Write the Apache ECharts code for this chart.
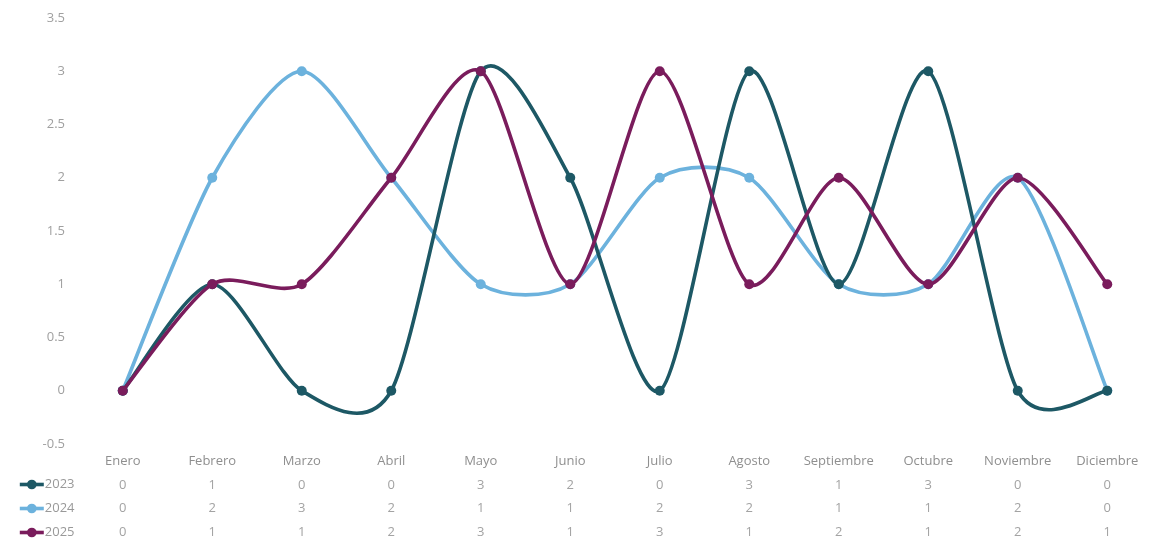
<!DOCTYPE html>
<html><head><meta charset="utf-8">
<script src="https://cdn.jsdelivr.net/npm/echarts@6/dist/echarts.min.js"></script>
<style>html,body{margin:0;padding:0;background:#fff}#c{width:1149px;height:540px}</style>
</head><body><div id="c"></div>
<script>
const categories = ['Enero','Febrero','Marzo','Abril','Mayo','Junio','Julio','Agosto','Septiembre','Octubre','Noviembre','Diciembre'];
const seriesNames = ['2023','2024','2025'];
const s2023 = [0,1,0,0,3,2,0,3,1,3,0,0];
const s2024 = [0,2,3,2,1,1,2,2,1,1,2,0];
const s2025 = [0,1,1,2,3,1,3,1,2,1,2,1];
const yTicks = [-0.5,0,0.5,1,1.5,2,2.5,3,3.5];
const colors = ['#1d5865','#6cb2dd','#7a1c5c'];
const allSeries = [s2023, s2024, s2025];

const chart = echarts.init(document.getElementById('c'));
const font = '"Open Sans", "Noto Sans", sans-serif';
const LW = 3.6;
const TENSION = 1 / 7.5;

function curveRenderer(s, color) {
  const n = s.length;
  return function (params, api) {
    const i = params.dataIndex;
    if (i >= n - 1) return null;
    const cl = j => Math.max(0, Math.min(n - 1, j));
    const p = j => api.coord([cl(j), s[cl(j)]]);
    const p0 = p(i - 1), p1 = p(i), p2 = p(i + 1), p3 = p(i + 2);
    const c1 = [p1[0] + (p2[0] - p0[0]) * TENSION, p1[1] + (p2[1] - p0[1]) * TENSION];
    const c2 = [p2[0] - (p3[0] - p1[0]) * TENSION, p2[1] - (p3[1] - p1[1]) * TENSION];
    return {
      type: 'bezierCurve',
      shape: {x1: p1[0], y1: p1[1], x2: p2[0], y2: p2[1], cpx1: c1[0], cpy1: c1[1], cpx2: c2[0], cpy2: c2[1]},
      style: {stroke: color, lineWidth: LW, fill: null, lineCap: 'round'}
    };
  };
}

const zc = [3, 2, 4];
const series = [];
allSeries.forEach((s, k) => {
  series.push({
    name: seriesNames[k] + ' curva', type: 'custom',
    data: s.map((v, i) => [i, v]), encode: {x: 0, y: 1},
    renderItem: curveRenderer(s, colors[k]), z: zc[k], silent: true, clip: false
  });
});
allSeries.forEach((s, k) => {
  series.push({
    name: seriesNames[k], type: 'line', data: s,
    symbol: 'circle', symbolSize: 10,
    lineStyle: {width: 0, opacity: 0, color: colors[k]},
    itemStyle: {color: colors[k]},
    z: zc[k] + 0.5
  });
});

chart.setOption({
  animation: false,
  textStyle: {fontFamily: font},
  grid: {left: 78, right: -3, top: 18, bottom: 96, outerBoundsMode: 'none', containLabel: false},
  legend: {
    data: seriesNames.map((n, k) => ({name: n, lineStyle: {width: LW, opacity: 1, color: colors[k]}, itemStyle: {color: colors[k]}})),
    orient: 'vertical', left: 18, top: 478, padding: 0,
    itemWidth: 24, itemHeight: 12, itemGap: 11,
    textStyle: {color: '#999', fontSize: 13, fontFamily: font, padding: [0, 0, 0, -4]},
    selectedMode: false
  },
  xAxis: {
    type: 'category', data: categories, boundaryGap: true,
    axisLine: {show: false}, axisTick: {show: false},
    axisLabel: {
      margin: 6, interval: 0, color: '#8f8f8f', fontSize: 13, lineHeight: 23.5,
      formatter: (v, i) => [v, ...allSeries.map(s => '{v|' + s[i] + '}')].join('\n'),
      rich: {v: {color: '#a3a3a3', fontSize: 13, lineHeight: 23.5}}
    }
  },
  yAxis: {
    type: 'value', min: -0.5, max: 3.5, interval: 0.5,
    axisLine: {show: false}, axisTick: {show: false},
    splitLine: {show: false},
    axisLabel: {color: '#a0a0a0', fontSize: 13, margin: 13}
  },
  series: series
});
</script></body></html>
